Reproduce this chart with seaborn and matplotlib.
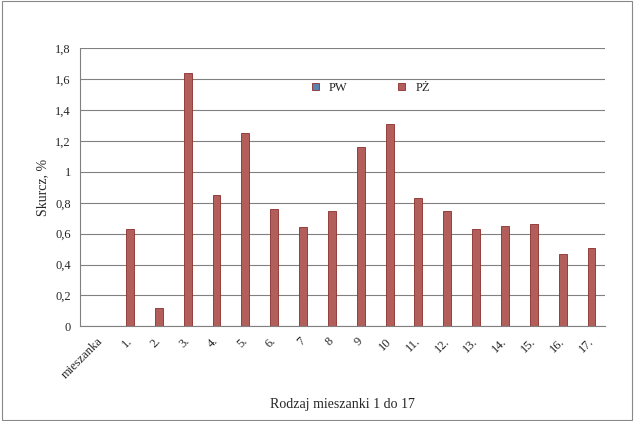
import pandas as pd
import matplotlib.pyplot as plt
import seaborn as sns

categories = ['mieszanka', '1.', '2.', '3.', '4.', '5.', '6.', '7', '8', '9', '10',
              '11.', '12.', '13.', '14.', '15.', '16.', '17.']
pw = [0.004] * 18
pz = [0.0, 0.63, 0.12, 1.64, 0.85, 1.25, 0.76, 0.64, 0.75, 1.16, 1.31,
      0.83, 0.75, 0.63, 0.65, 0.66, 0.47, 0.51]

df = pd.DataFrame({
    'kat': categories * 2,
    'val': pw + pz,
    'seria': ['PW'] * 18 + ['PŻ'] * 18,
})

sns.set_style('white')
plt.rcParams['font.family'] = ['Liberation Serif', 'DejaVu Serif']
serif = ['Liberation Serif', 'DejaVu Serif']

fig = plt.figure(figsize=(6.34, 4.21), dpi=100)
fig.patches.append(plt.Rectangle((0.003, 0.003), 0.994, 0.994, transform=fig.transFigure,
                                 fill=False, edgecolor='#888888', lw=0.8))
ax = fig.add_axes([0.126, 0.225, 0.828, 0.66])

sns.barplot(data=df, x='kat', y='val', hue='seria', palette=['#4F81BD', '#C0504D'],
            width=0.55, edgecolor='#8B2E2B', linewidth=0.6, ax=ax, legend=True)
for bar in ax.patches[:18]:
    bar.set_edgecolor('#2F5F9A')

ax.set_ylim(0, 1.8)
ax.set_xlim(-0.6, 17.6)
yt = [i * 0.2 for i in range(10)]
ax.set_yticks(yt)
ax.set_yticklabels([('%.1f' % v).replace('.', ',').replace(',0', '') for v in yt])
ax.yaxis.grid(True, color='#808080', lw=0.8)
ax.set_axisbelow(True)
for s in ['top', 'right']:
    ax.spines[s].set_visible(False)
ax.spines['left'].set_color('#808080')
ax.spines['bottom'].set_color('#808080')
ax.tick_params(axis='both', labelsize=9, length=3, color='#808080')
plt.setp(ax.get_xticklabels(), rotation=45, ha='right', rotation_mode='anchor', family=serif)
plt.setp(ax.get_yticklabels(), family=serif)
ax.set_ylabel('Skurcz, %', fontsize=10, family=serif)
ax.set_xlabel('Rodzaj mieszanki 1 do 17', fontsize=10, labelpad=12, family=serif)

ax.legend(loc='upper left', bbox_to_anchor=(0.42, 0.92), ncol=2, frameon=False,
          prop={'family': serif, 'size': 9}, handlelength=0.6, handleheight=0.6, columnspacing=4)

fig.savefig('out.png', dpi=100)
